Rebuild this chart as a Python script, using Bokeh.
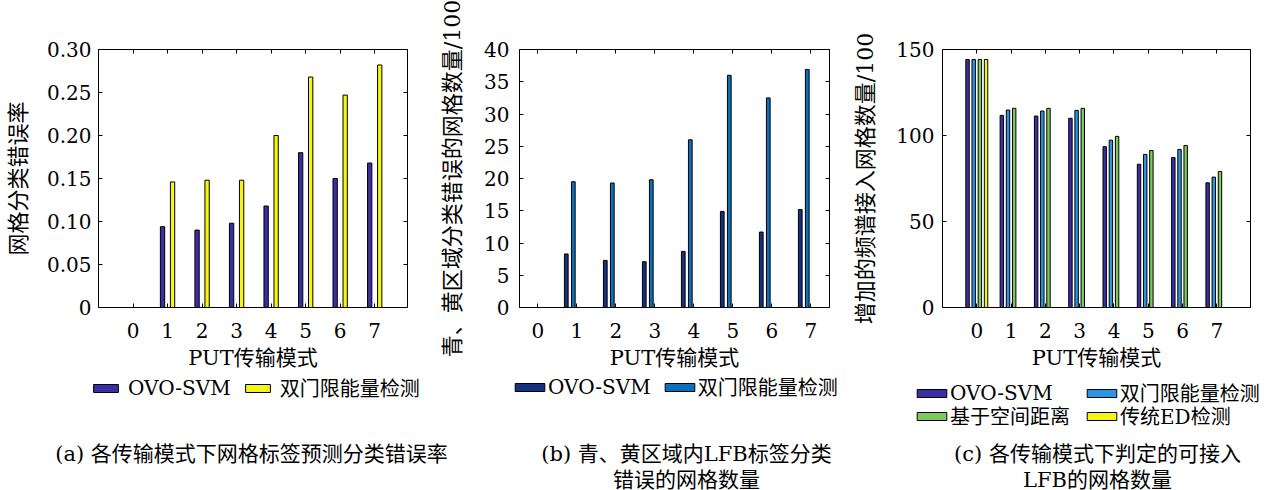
from bokeh.plotting import figure
from bokeh.layouts import row, column
from bokeh.models import (ColumnDataSource, FixedTicker, LinearAxis, Range1d,
                          Legend, LegendItem, Label)
from bokeh.transform import dodge
from bokeh.embed import file_html
from bokeh.resources import INLINE

# ---- data -------------------------------------------------------------
modes = [0, 1, 2, 3, 4, 5, 6, 7]
mode_labels = ["0", "1", "2", "3", "4", "5", "6", "7"]

# (a) grid label classification error rate
a_ovo = [0.0, 0.094, 0.090, 0.098, 0.118, 0.180, 0.150, 0.168]
a_dual = [0.0, 0.146, 0.148, 0.148, 0.200, 0.268, 0.247, 0.282]
a_yticks = [0, 0.05, 0.10, 0.15, 0.20, 0.25, 0.30]
a_ytick_labels = ["0", "0.05", "0.10", "0.15", "0.20", "0.25", "0.30"]

# (b) misclassified grids in cyan/yellow regions (/100)
b_ovo = [0.0, 8.3, 7.3, 7.1, 8.7, 14.9, 11.7, 15.2]
b_dual = [0.0, 19.5, 19.3, 19.8, 26.0, 36.0, 32.5, 36.9]
b_yticks = [0, 5, 10, 15, 20, 25, 30, 35, 40]

# (c) additional spectrum-access grids (/100)
c_ovo = [144.2, 111.7, 111.3, 110.0, 93.5, 83.3, 87.2, 72.5]
c_dual = [144.2, 114.8, 114.2, 114.6, 97.3, 89.0, 91.9, 75.8]
c_space = [144.2, 115.8, 115.8, 115.8, 99.5, 91.3, 94.2, 79.1]
c_ed = [144.2, 0.0, 0.0, 0.0, 0.0, 0.0, 0.0, 0.0]
c_yticks = [0, 50, 100, 150]

names_ab = ["OVO-SVM", "双门限能量检测"]
names_c = ["OVO-SVM", "双门限能量检测", "基于空间距离", "传统ED检测"]

xlabel = "PUT传输模式"
a_ylabel = "网格分类错误率"
b_ylabel = "青、黄区域分类错误的网格数量/100"
c_ylabel = "增加的频谱接入网格数量/100"

cap_a = ["(a) 各传输模式下网格标签预测分类错误率"]
cap_b = ["(b) 青、黄区域内LFB标签分类", "错误的网格数量"]
cap_c = ["(c) 各传输模式下判定的可接入", "LFB的网格数量"]

# ---- styling ----------------------------------------------------------
FONT = "'DejaVu Serif', 'Noto Sans CJK SC', serif"
TICK_SIZE = "20px"
LABEL_SIZE = "21px"
TOTAL_W = 1278
TOP = 49
FRAME_H = 258
PLOT_H = 376          # chart part (axes + bars)
KEY_H = 490 - PLOT_H  # legend + caption strip

IND = "#3b2ea3"
YEL = "#f5f510"
NAVY = "#14307f"
MBLUE = "#0b6fba"
LBLUE = "#2b95e2"
GREEN = "#7dc95a"


def style_axis(ax, ticks, labels=None, show=True, standoff=7):
    ax.ticker = FixedTicker(ticks=ticks)
    if labels is not None:
        ax.major_label_overrides = {t: l for t, l in zip(ticks, labels)}
    ax.major_tick_in = 4
    ax.major_tick_out = 0
    ax.minor_tick_line_color = None
    ax.axis_line_color = "black"
    ax.major_tick_line_color = "black"
    ax.major_label_text_font = FONT
    ax.major_label_text_color = "black" if show else None
    ax.major_label_standoff = standoff
    ax.major_label_text_font_size = TICK_SIZE
    ax.axis_label_text_font = FONT
    ax.axis_label_text_font_style = "normal"
    ax.axis_label_text_font_size = LABEL_SIZE
    ax.axis_label_text_color = "black"


def make_panel(width, left, right, xr, ymax, yticks, ylabels, ylabel,
               ystand, lab_stand, series, offsets, bar_w, colors):
    p = figure(width=width, height=PLOT_H, x_range=Range1d(*xr),
               y_range=Range1d(0, ymax), output_backend="svg",
               toolbar_location=None, min_border_left=left,
               min_border_right=right, min_border_top=TOP,
               min_border_bottom=PLOT_H - TOP - FRAME_H)
    p.xgrid.visible = False
    p.ygrid.visible = False
    p.outline_line_color = None
    p.background_fill_color = "white"
    p.border_fill_color = "white"

    xa = p.xaxis[0]
    style_axis(xa, modes, mode_labels, standoff=15)
    xa.axis_label = xlabel
    xa.axis_label_standoff = 5
    ya = p.yaxis[0]
    style_axis(ya, yticks, ylabels, standoff=ystand)
    ya.axis_label = ylabel
    ya.axis_label_standoff = lab_stand
    ya.axis_label_text_font_size = "22px"

    top_ax = LinearAxis()
    style_axis(top_ax, modes, show=False)
    p.add_layout(top_ax, "above")
    right_ax = LinearAxis()
    style_axis(right_ax, yticks, show=False)
    p.add_layout(right_ax, "right")

    data = {"x": modes}
    for i, s in enumerate(series):
        data["s%d" % i] = s
    src = ColumnDataSource(data)
    for i, (off, col) in enumerate(zip(offsets, colors)):
        p.vbar(x=dodge("x", off, range=p.x_range), top="s%d" % i,
               width=bar_w, source=src, fill_color=col,
               line_color="black", line_width=1)
    return p


# strip under the three charts holding the legends and captions
key = figure(width=TOTAL_W, height=KEY_H, x_range=Range1d(0, 1),
             y_range=Range1d(0, 1), output_backend="svg",
             toolbar_location=None, min_border=0,
             x_axis_location=None, y_axis_location=None)
key.grid.visible = False
key.outline_line_color = None
key.background_fill_color = "white"
key.border_fill_color = "white"
# legend swatches: one zero-height bar parked outside the strip's range
swatch_src = ColumnDataSource({"x": [-5.0], "top": [0.0]})


def swatch(color):
    return key.vbar(x="x", top="top", width=0.01, source=swatch_src,
                    fill_color=color, line_color="black", line_width=1)


def add_legend(names, colors, loc, gw, gh, standoff, spacing):
    items = [LegendItem(label=t, renderers=[swatch(c)])
             for t, c in zip(names, colors)]
    lg = Legend(items=items, location=loc, orientation="horizontal",
                glyph_width=gw, glyph_height=gh, label_standoff=standoff,
                spacing=spacing, padding=0, margin=0,
                border_line_color=None, background_fill_alpha=0,
                label_text_font=FONT, label_text_font_size="20px",
                label_text_color="black", label_height=20)
    key.add_layout(lg)


def add_caption(lines, cx):
    for n, t in enumerate(lines):
        key.add_layout(Label(x=cx, y=KEY_H - (453 - PLOT_H) - 26 * n,
                             x_units="screen", y_units="screen", text=t,
                             text_align="center", text_baseline="middle",
                             text_font=FONT, text_font_size=LABEL_SIZE,
                             text_color="black"))


# (a)
pa = make_panel(430, 98, 23, (-1.0, 7.95), 0.30, a_yticks, a_ytick_labels,
                a_ylabel, 7, 13, [a_ovo, a_dual], [-0.145, 0.145], 0.125,
                [IND, YEL])
add_legend(names_ab, [IND, YEL], (90, KEY_H - 26), 31, 10, 7, 11)
add_caption(cap_a, 251)

# (b)
pb = make_panel(420, 89, 21, (-0.47, 7.48), 40, b_yticks, None,
                b_ylabel, 10, 16, [b_ovo, b_dual], [-0.27, -0.09], 0.095,
                [NAVY, MBLUE])
add_legend(names_ab, [NAVY, MBLUE], (511, KEY_H - 25), 37, 10, 0, 10)
add_caption(cap_b, 686)

# (c)
pc = make_panel(428, 91, 28, (-1.0, 7.98), 150, c_yticks, None,
                c_ylabel, 8, 15, [c_ovo, c_dual, c_space, c_ed],
                [-0.27, -0.09, 0.09, 0.27], 0.1,
                [IND, LBLUE, GREEN, YEL])
add_legend(names_c[:2], [IND, LBLUE], (913, KEY_H - 31), 37, 10, 0, 30)
add_legend(names_c[2:], [GREEN, YEL], (913, KEY_H - 54), 37, 10, 0, 13)
add_caption(cap_c, 1097)

layout = column(row(pa, pb, pc), key)
open("out.html", "w").write(file_html(layout, INLINE))
